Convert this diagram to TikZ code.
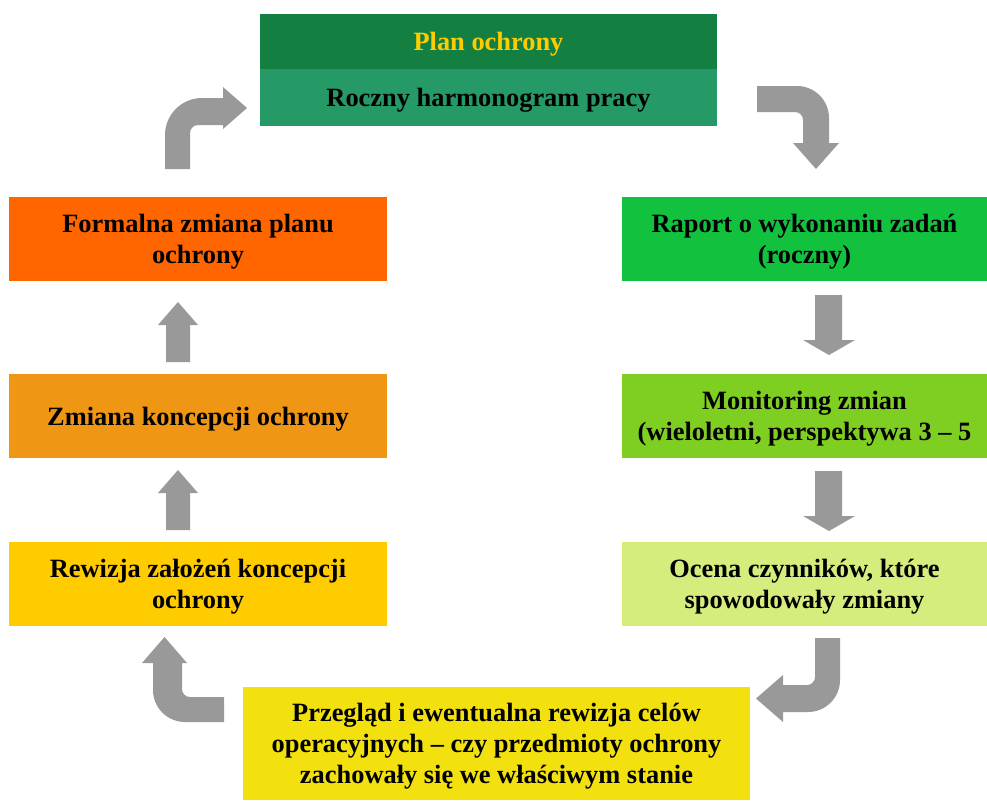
\documentclass[tikz,border=0pt]{standalone}
\usepackage{fontspec}
\setmainfont{Liberation Serif}

\definecolor{plangreen}{HTML}{138042}
\definecolor{harmgreen}{HTML}{259A67}
\definecolor{raportgreen}{HTML}{12C23F}
\definecolor{monitgreen}{HTML}{7FCF22}
\definecolor{ocenagreen}{HTML}{D5ED7D}
\definecolor{przegladyellow}{HTML}{F2E10F}
\definecolor{rewizjayellow}{HTML}{FFCC00}
\definecolor{zmianaorange}{HTML}{EF9615}
\definecolor{formalnaorange}{HTML}{FF6600}
\definecolor{arrowgray}{HTML}{999999}

\begin{document}
\begin{tikzpicture}[x=1pt,y=-1pt,
    box/.style={rectangle, inner sep=0pt, align=center, text depth=0pt,
        font=\bfseries\fontsize{26.4}{30.8}\selectfont},
    sidebox/.style={box, minimum width=378pt, minimum height=84pt},
    rightbox/.style={box, minimum width=365pt, minimum height=84pt},
    grayarrow/.style={fill=arrowgray}]
    \useasboundingbox (0,0) rectangle (987,801);

    % Header
    \node[box, fill=plangreen, text=rewizjayellow, minimum width=457pt, minimum height=55pt] (plan) at (488.5,41.5) {Plan ochrony};
    \node[box, fill=harmgreen, minimum width=457pt, minimum height=57pt] (harm) at (488.5,97.5) {Roczny harmonogram pracy};

    % Right column
    \node[rightbox, fill=raportgreen] (raport) at (804.5,239) {Raport o wykonaniu zadań\\(roczny)};
    \node[rightbox, fill=monitgreen] (monit) at (804.5,416) {Monitoring zmian\\(wieloletni, perspektywa 3 – 5};
    \node[rightbox, fill=ocenagreen] (ocena) at (804.5,584) {Ocena czynników, które\\spowodowały zmiany};

    % Bottom
    \node[box, fill=przegladyellow, minimum width=507pt, minimum height=113pt] (przeglad) at (496.5,743.5) {Przegląd i ewentualna rewizja celów\\operacyjnych – czy przedmioty ochrony\\zachowały się we właściwym stanie};

    % Left column
    \node[sidebox, fill=rewizjayellow] (rewizja) at (198,584) {Rewizja założeń koncepcji\\ochrony};
    \node[sidebox, fill=zmianaorange] (zmiana) at (198,416) {Zmiana koncepcji ochrony};
    \node[sidebox, fill=formalnaorange] (formalna) at (198,239) {Formalna zmiana planu\\ochrony};

    % Straight arrows, right side (down)
    \foreach \y in {295,471}
        \fill[grayarrow] (815,\y) -- (842,\y) -- (842,\y+45) -- (855,\y+45)
            -- (829,\y+60) -- (803,\y+45) -- (815,\y+45) -- cycle;

    % Straight arrows, left side (up)
    \foreach \y in {302,470}
        \fill[grayarrow] (178,\y) -- (198,\y+23) -- (190,\y+23) -- (190,\y+60)
            -- (166,\y+60) -- (166,\y+23) -- (158,\y+23) -- cycle;

    % Bent arrow: harmonogram -> raport
    \fill[grayarrow] (757,86) -- (797,86) .. controls (814.7,86) and (829,100.3) .. (829,118)
        -- (829,143) -- (839,143) -- (816,169) -- (793,143) -- (803,143) -- (803,120)
        .. controls (803,115.6) and (799.4,112) .. (795,112) -- (757,112) -- cycle;

    % Bent arrow: ocena -> przeglad
    \fill[grayarrow] (815,638) -- (840,638) -- (840,680) .. controls (840,697.7) and (825.7,712) .. (808,712)
        -- (783,712) -- (783,722) -- (756,698.5) -- (783,675) -- (783,685) -- (807,685)
        .. controls (811.4,685) and (815,681.4) .. (815,677) -- cycle;

    % Bent arrow: przeglad -> rewizja
    \fill[grayarrow] (224,697) -- (190,697) .. controls (185.6,697) and (182,693.4) .. (182,689)
        -- (182,663) -- (187,663) -- (164.5,637) -- (142,663) -- (153,663) -- (153,690)
        .. controls (153,707.7) and (167.3,722) .. (185,722) -- (224,722) -- cycle;

    % Bent arrow: formalna -> plan
    \fill[grayarrow] (165,169) -- (165,135) .. controls (165,114.6) and (181.6,98) .. (202,98)
        -- (223,98) -- (223,87) -- (247,108) -- (223,129) -- (223,125) -- (198,125)
        .. controls (193.6,125) and (190,128.6) .. (190,133) -- (190,169) -- cycle;
\end{tikzpicture}
\end{document}
